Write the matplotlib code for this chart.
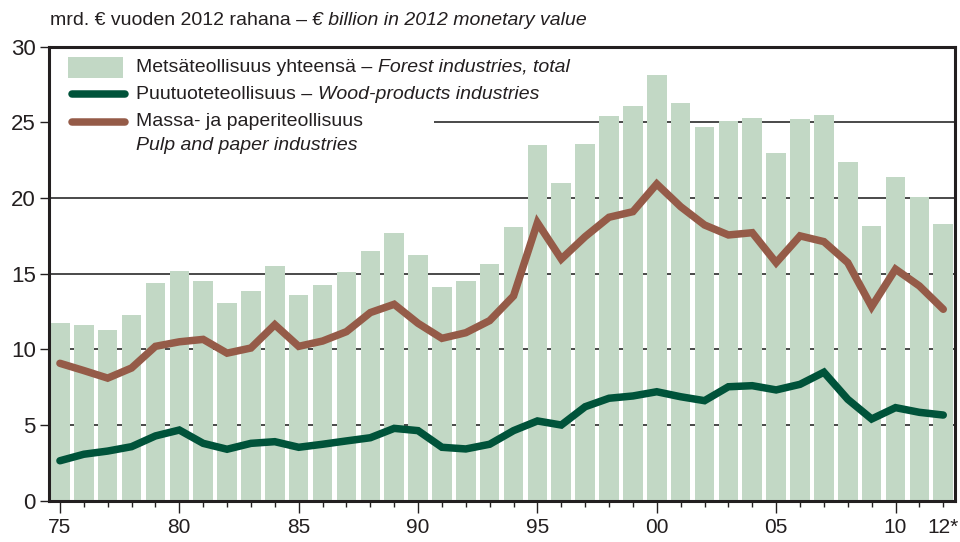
"""Forest industries value added, 1975-2012 (in 2012 money)."""

import matplotlib
matplotlib.use("Agg")
import matplotlib.pyplot as plt
from matplotlib.patches import Rectangle
from matplotlib.lines import Line2D

YEARS = list(range(1975, 2013))

FOREST_TOTAL = [
    11.74, 11.61, 11.28, 12.27, 14.39, 15.18, 14.52, 13.07, 13.86, 15.51,
    13.60, 14.26, 15.14, 16.50, 17.69, 16.24, 14.12, 14.52, 15.65, 18.09,
    23.51, 21.00, 23.58, 25.43, 26.09, 28.14, 26.28, 24.70, 25.10, 25.30,
    23.00, 25.23, 25.49, 22.37, 18.15, 21.38, 20.06, 18.28,
]
WOOD_PRODUCTS = [
    2.64, 3.07, 3.28, 3.57, 4.28, 4.67, 3.79, 3.40, 3.79, 3.90,
    3.53, 3.73, 3.95, 4.16, 4.78, 4.63, 3.53, 3.42, 3.73, 4.63,
    5.27, 5.00, 6.21, 6.77, 6.92, 7.20, 6.87, 6.61, 7.53, 7.60,
    7.32, 7.69, 8.49, 6.70, 5.40, 6.15, 5.84, 5.66,
]
PULP_PAPER = [
    9.08, 8.60, 8.10, 8.77, 10.20, 10.50, 10.66, 9.75, 10.09, 11.63,
    10.20, 10.55, 11.17, 12.43, 12.98, 11.72, 10.73, 11.10, 11.90, 13.53,
    18.37, 15.97, 17.45, 18.73, 19.10, 20.93, 19.43, 18.22, 17.56, 17.71,
    15.73, 17.50, 17.12, 15.73, 12.82, 15.30, 14.19, 12.65,
]

TICK_YEARS = [1975, 1980, 1985, 1990, 1995, 2000, 2005, 2010, 2012]
TICK_LABELS = ["75", "80", "85", "90", "95", "00", "05", "10", "12*"]

BAR_COLOR = "#c2d8c5"
WOOD_COLOR = "#00533a"
PULP_COLOR = "#955b48"
TEXT_COLOR = "#231f20"

plt.rcParams.update({
    "font.family": ["Liberation Sans", "DejaVu Sans"],
    "text.color": TEXT_COLOR,
    "axes.edgecolor": "#231f20",
    "xtick.color": "#231f20",
    "ytick.color": "#231f20",
})

fig = plt.figure(figsize=(9.6, 5.42), dpi=100)
ax = fig.add_axes([0.051, 0.0762, 0.944, 0.8376])

# grid lines behind everything
for v in range(5, 30, 5):
    ax.axhline(v, color="#3a3a3a", linewidth=1.3, zorder=0.2)

# white box behind the legend hides the grid there
ax.add_patch(Rectangle((0, 0.73), 0.425, 0.27, transform=ax.transAxes,
                       facecolor="white", edgecolor="none", zorder=0.5))

ax.bar(YEARS, FOREST_TOTAL, width=0.82, color=BAR_COLOR, zorder=1)
ax.plot(YEARS, PULP_PAPER, color=PULP_COLOR, linewidth=5.4,
        solid_joinstyle="miter", solid_capstyle="round", zorder=3)
ax.plot(YEARS, WOOD_PRODUCTS, color=WOOD_COLOR, linewidth=5.4,
        solid_joinstyle="miter", solid_capstyle="round", zorder=3)

ax.set_xlim(1975 - 0.46, 2012 + 0.5)
ax.set_ylim(0, 30)

for side in ["left", "right", "top", "bottom"]:
    ax.spines[side].set_linewidth(2.2)
    ax.spines[side].set_zorder(4)

ax.set_yticks(range(0, 31, 5))
ax.tick_params(axis="y", direction="out", length=6.5, width=1, pad=3, labelsize=16)
ax.set_xticks(TICK_YEARS)
ax.set_xticklabels(TICK_LABELS)
ax.set_xticks(YEARS, minor=True)
ax.tick_params(axis="x", which="major", direction="out", length=8.5, width=1,
               pad=4, labelsize=15)
ax.tick_params(axis="x", which="minor", direction="out", length=4.3, width=1)
ax.xaxis.get_major_ticks()[-1].tick1line.set_markersize(4.3)

# unit line above the frame
unit = fig.text(0.052, 0.962, "mrd. € vuoden 2012 rahana – ", fontsize=14,
                va="center", ha="left")
fig.canvas.draw()
ax.annotate("€ billion in 2012 monetary value", xy=(1, 0), xycoords=unit,
            va="bottom", ha="left", fontsize=14, style="italic")

# hand-made legend
fs = 14
rows = [(0.955, "Metsäteollisuus yhteensä – ", "Forest industries, total"),
        (0.895, "Puutuoteteollisuus – ", "Wood-products industries"),
        (0.835, "Massa- ja paperiteollisuus", None)]
ax.add_patch(Rectangle((0.0215, 0.932), 0.06, 0.046, transform=ax.transAxes,
                       facecolor=BAR_COLOR, edgecolor="none", zorder=2))
for y, color in [(0.895, WOOD_COLOR), (0.835, PULP_COLOR)]:
    ax.add_line(Line2D([0.025, 0.0835], [y, y], transform=ax.transAxes,
                       color=color, linewidth=5.4, solid_capstyle="round",
                       zorder=2))
for y, plain, italic in rows:
    t = ax.text(0.096, y, plain, transform=ax.transAxes, fontsize=fs,
                va="center", ha="left", zorder=5)
    if italic:
        fig.canvas.draw()
        ax.annotate(italic, xy=(1, 0), xycoords=t, va="bottom", ha="left",
                    fontsize=fs, style="italic", zorder=5)
ax.text(0.096, 0.782, "Pulp and paper industries", transform=ax.transAxes,
        fontsize=fs, style="italic", va="center", ha="left", zorder=5)

fig.savefig("out.png", dpi=100)
